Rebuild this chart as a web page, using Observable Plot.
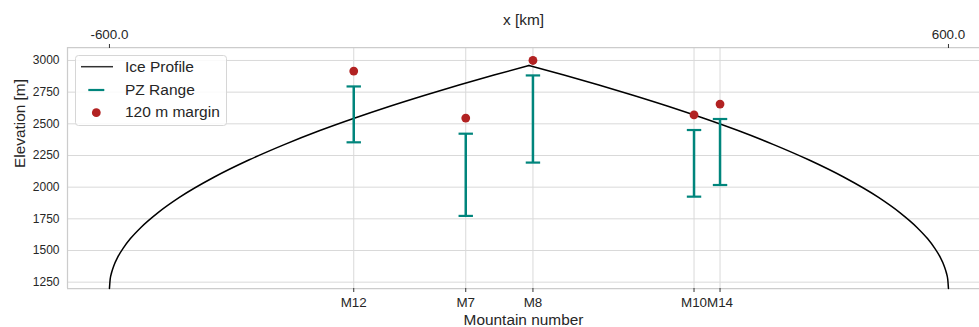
<!DOCTYPE html>
<html>
<head>
<meta charset="utf-8">
<script src="https://cdn.jsdelivr.net/npm/d3@7"></script>
<script src="https://cdn.jsdelivr.net/npm/@observablehq/plot@0.6"></script>
<style>
  html, body { margin: 0; padding: 0; background: #fff; }
  #wrap { position: relative; width: 979px; height: 327px; overflow: hidden; }
  #legend { position: absolute; left: 0; top: 0; pointer-events: none; }
</style>
</head>
<body>
<div id="wrap"></div>
<script>
// ---- data ----
const mountains = ["M12", "M7", "M8", "M10", "M14"];
const mountainX = [-250.6, -90.4, 5.7, 236.1, 273.3];        // km
const pzLow     = [2354, 1773, 2194, 1925, 2017];            // m
const pzHigh    = [2795, 2422, 2882, 2451, 2538];            // m
const marginPts = [2916, 2545, 3000, 2570, 2656];            // m (120 m margin)

// ice profile (km, m)
const profileX = [-600, -599, -597, -594, -588, -580, -570, -555, -530, -500, -450, -400, -350, -300, -250, -200, -150, -100, -50, 0,
                  50, 100, 150, 200, 250, 300, 350, 400, 450, 500, 530, 555, 570, 580, 588, 594, 597, 599, 600];
const profileY = [1200, 1272, 1324, 1376, 1449, 1521, 1594, 1682, 1801, 1919, 2080, 2216, 2336, 2445, 2544, 2637, 2724, 2807, 2885, 2960,
                  2885, 2807, 2724, 2637, 2544, 2445, 2336, 2216, 2080, 1919, 1801, 1682, 1594, 1521, 1449, 1376, 1324, 1272, 1200];

const yTicks = [1250, 1500, 1750, 2000, 2250, 2500, 2750, 3000];
const topTicks = [-600, 600];

// ---- tables ----
const profile = profileX.map((x, i) => ({x, y: profileY[i], side: x < 0 ? "W" : "E"}));
// the summit point belongs to both flanks
profile.push({x: 0, y: profileY[profileX.indexOf(0)], side: "W"});
profile.sort((a, b) => a.x - b.x);
const table = mountains.map((name, i) => ({name, x: mountainX[i], low: pzLow[i], high: pzHigh[i], margin: marginPts[i]}));

const teal = "#00857c";
const red = "#b22222";
const gridC = "#d9d9d9";
const spineC = "#cccccc";
const font = "'Liberation Sans', Arial, Helvetica, sans-serif";

const capSymbol = {
  draw(context) { context.moveTo(-7.2, 0); context.lineTo(7.2, 0); }
};

const chart = Plot.plot({
  width: 979,
  height: 327,
  marginLeft: 67,
  marginRight: 0,
  marginTop: 47,
  marginBottom: 39,
  style: {fontFamily: font, color: "#262626", background: "white", overflow: "visible"},
  x: {domain: [-660, 644.4]},
  y: {domain: [1200, 3102.5]},
  marks: [
    Plot.gridY(yTicks, {stroke: gridC, strokeOpacity: 1, strokeWidth: 1}),
    Plot.gridX(mountainX, {stroke: gridC, strokeOpacity: 1, strokeWidth: 1}),
    Plot.ruleX([-660], {stroke: spineC, strokeWidth: 1.25}),
    Plot.ruleY([1200, 3102.5], {stroke: spineC, strokeWidth: 1.25}),
    Plot.axisY({ticks: yTicks, tickFormat: d => String(d), tickSize: 0, tickPadding: 8, fontSize: 12, label: null}),
    Plot.axisX({anchor: "top", ticks: topTicks, tickFormat: d => d.toFixed(1), tickSize: 4, tickPadding: 5,
                fontSize: 13.4, label: null, stroke: "#333"}),
    Plot.axisX({anchor: "bottom", ticks: mountainX, tickFormat: d => mountains[mountainX.indexOf(d)],
                tickSize: 4, tickPadding: 5, fontSize: 13.4, label: null, stroke: "#333"}),
    Plot.text(["Elevation [m]"], {frameAnchor: "left", dx: -47, rotate: -90, fontSize: 15.4, fill: "#262626"}),
    Plot.text(["x [km]"], {frameAnchor: "top", dy: -33, fontSize: 15.4, fill: "#262626"}),
    Plot.text(["Mountain number"], {frameAnchor: "bottom", dy: 36.5, fontSize: 15.4, fill: "#262626"}),
    Plot.line(profile, {x: "x", y: "y", z: "side", stroke: "black", strokeWidth: 1.5, curve: "monotone-x"}),
    Plot.ruleX(table, {x: "x", y1: "low", y2: "high", stroke: teal, strokeWidth: 2.5}),
    Plot.dot(table, {x: "x", y: "low", symbol: capSymbol, fill: "none", stroke: teal, strokeWidth: 2.2}),
    Plot.dot(table, {x: "x", y: "high", symbol: capSymbol, fill: "none", stroke: teal, strokeWidth: 2.2}),
    Plot.dot(table, {x: "x", y: "margin", r: 4.4, fill: red, stroke: "none"})
  ]
});

const wrap = document.getElementById("wrap");
wrap.appendChild(chart);

// ---- legend (inside the plot area, top-left) ----
const ns = "http://www.w3.org/2000/svg";
const leg = document.createElementNS(ns, "svg");
leg.setAttribute("id", "legend");
leg.setAttribute("width", 979);
leg.setAttribute("height", 327);
leg.style.fontFamily = font;
function el(tag, attrs, text) {
  const e = document.createElementNS(ns, tag);
  for (const k in attrs) e.setAttribute(k, attrs[k]);
  if (text) e.textContent = text;
  leg.appendChild(e);
  return e;
}
el("rect", {x: 75.5, y: 55.5, width: 151, height: 70, rx: 3, fill: "white", "fill-opacity": 0.85, stroke: "#d6d6d6"});
el("line", {x1: 81, x2: 113, y1: 66.7, y2: 66.7, stroke: "#333", "stroke-width": 1.5});
el("text", {x: 125, y: 71.5, "font-size": 15.5, fill: "#262626"}, "Ice Profile");
el("line", {x1: 88.3, x2: 104.3, y1: 90, y2: 90, stroke: teal, "stroke-width": 2.2});
el("text", {x: 125, y: 94.6, "font-size": 15.5, fill: "#262626"}, "PZ Range");
el("circle", {cx: 96.3, cy: 112.7, r: 4.4, fill: red});
el("text", {x: 125, y: 117.4, "font-size": 15.5, fill: "#262626"}, "120 m margin");
wrap.appendChild(leg);
</script>
</body>
</html>
